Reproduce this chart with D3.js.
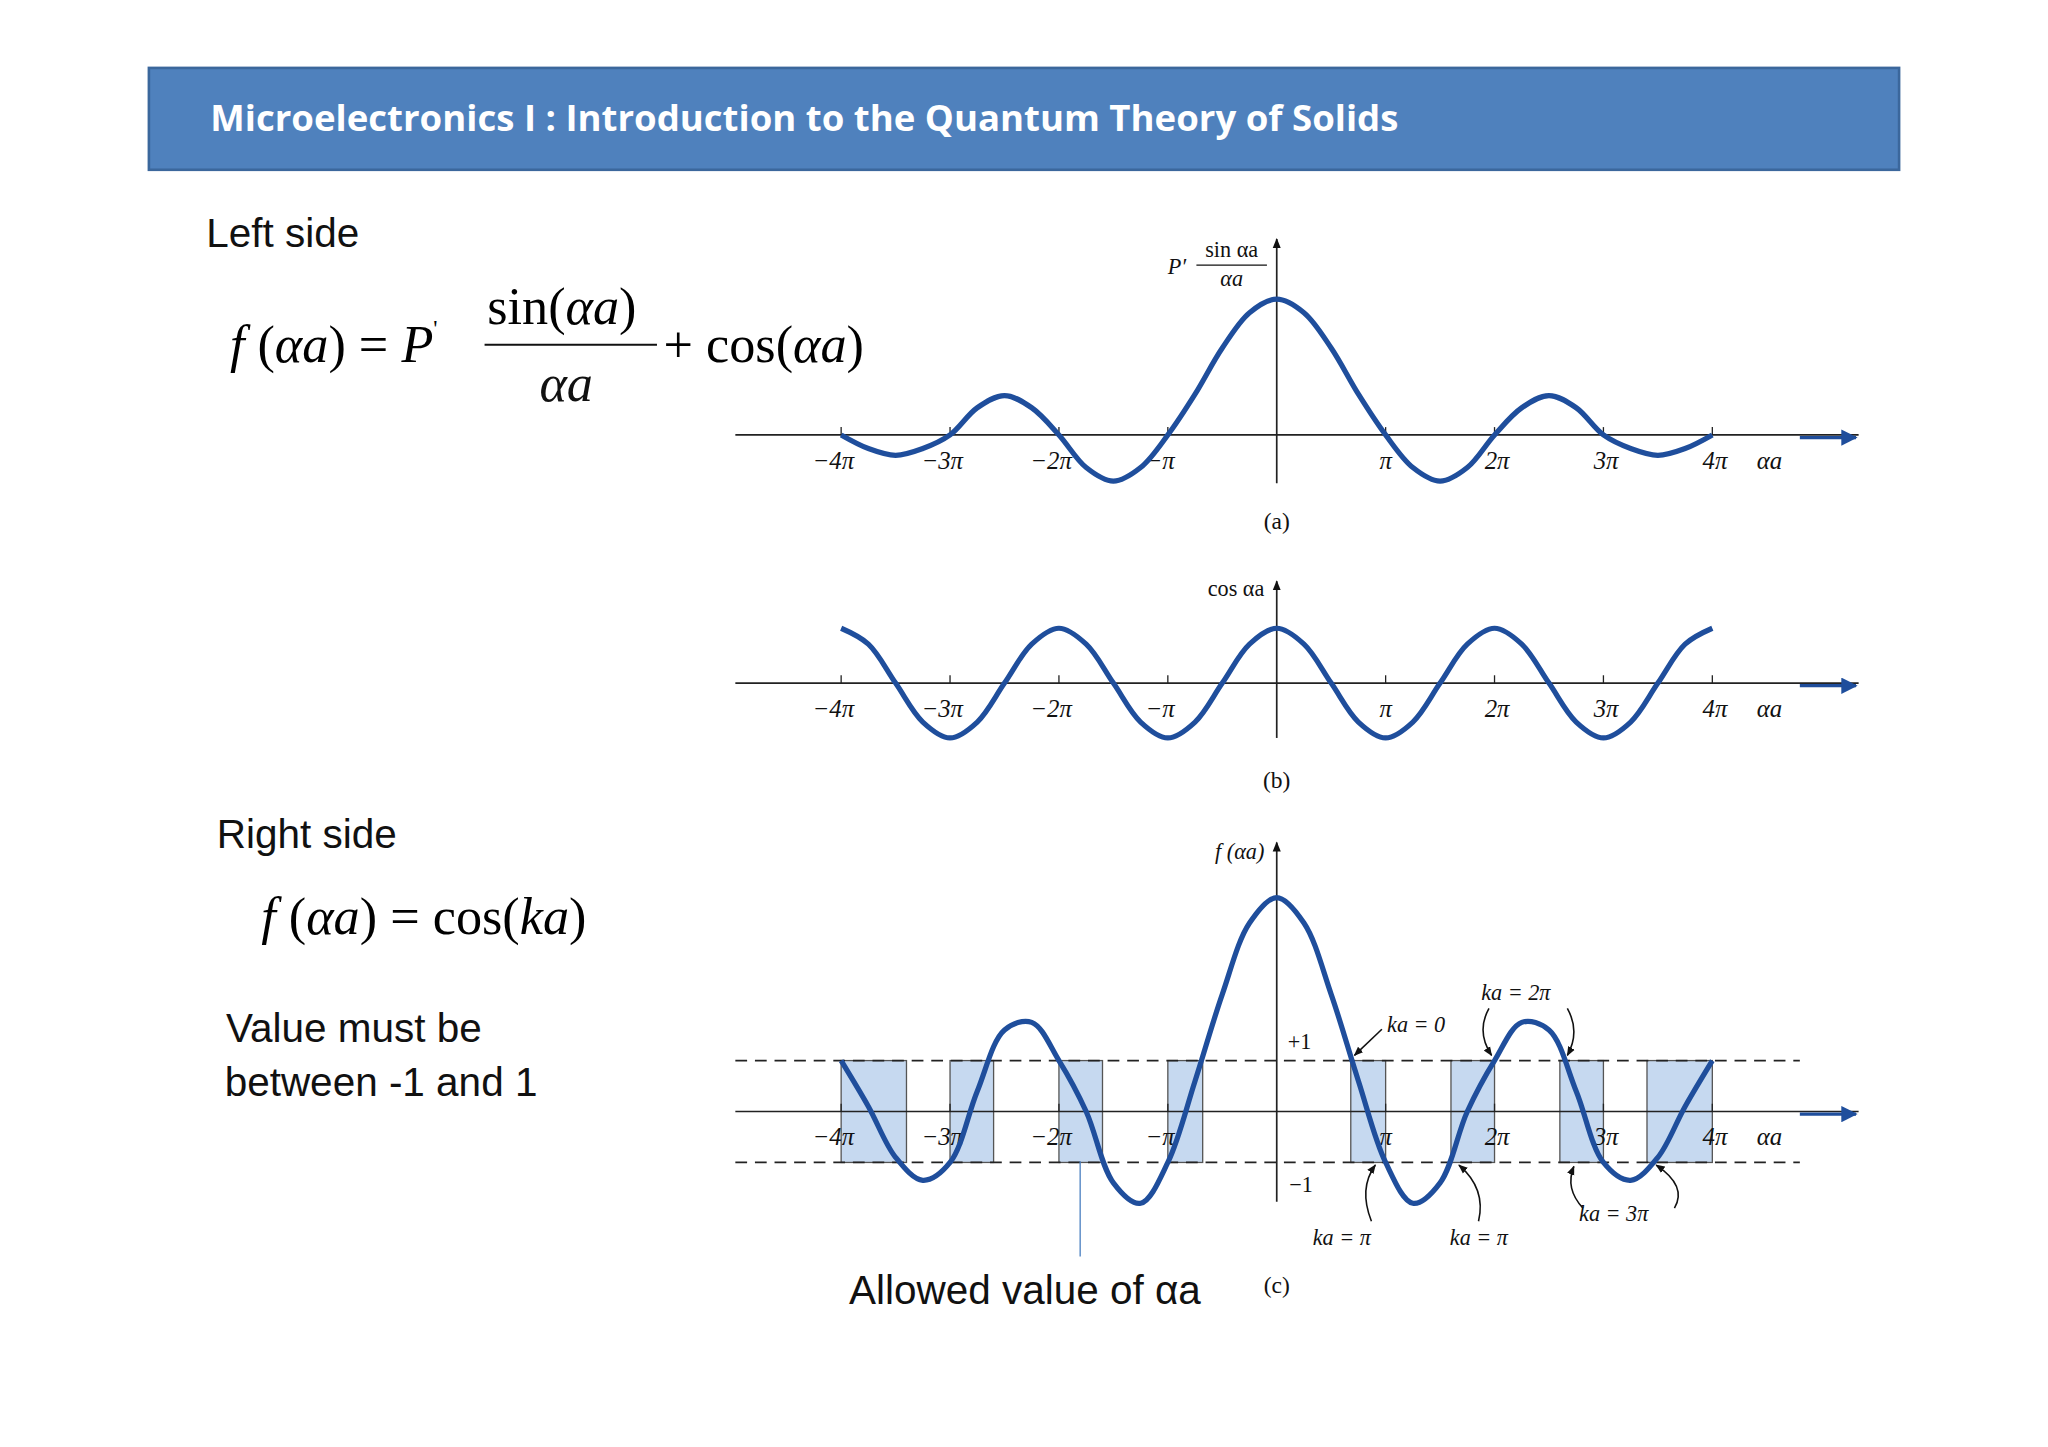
<!DOCTYPE html>
<html><head><meta charset="utf-8">
<script src="https://cdn.jsdelivr.net/npm/d3@7"></script>
<style>body{margin:0;background:#fff}</style></head>
<body><svg id="c" width="2048" height="1447"></svg>
<script>
// x in units of π
const xs = [0,0.25,0.5,0.75,1,1.25,1.5,1.75,2,2.25,2.5,2.75,3,3.25,3.5,3.75,4];
const sincHalf = [1,0.9,0.64,0.3,0,-0.24,-0.34,-0.24,0,0.2,0.29,0.2,0,-0.1,-0.15,-0.1,0];
const cosHalf = [1,0.71,0,-0.71,-1,-0.71,0,0.71,1,0.71,0,-0.71,-1,-0.71,0,0.71,1];
const fHalf = [4.2,3.7,2.3,0.6,-1,-1.8,-1.4,0,1,1.75,1.6,0.4,-1,-1.35,-0.9,0.1,1];
const bands = [[-4,-3.4],[-3,-2.6],[-2,-1.6],[-1,-0.68],[0.68,1],[1.6,2],[2.6,3],[3.4,4]];
const tickVals = [-4,-3,-2,-1,1,2,3,4];
const tickLabels = ["−4π","−3π","−2π","−π","π","2π","3π","4π"];

function full(half){const pts=[];for(let i=xs.length-1;i>0;i--)pts.push([-xs[i],half[i]]);xs.forEach((x,i)=>pts.push([x,half[i]]));return pts;}

const svg=d3.select("#c");
const g=svg.append("g").attr("transform","scale("+(2048/1568)+")");
const blue="#1f4e9c";
const x=d3.scaleLinear().domain([-4,4]).range([644,1311]);
const serif="Liberation Serif, Times New Roman, serif";

// header
g.append("rect").attr("x",114).attr("y",52).attr("width",1340).attr("height",78).attr("fill","#4f81bd").attr("stroke","#3b679c").attr("stroke-width",2);
g.append("text").attr("x",161).attr("y",100).attr("fill","#fff").attr("font-family","Open Sans, sans-serif").attr("font-weight","bold").attr("font-size",28).text("Microelectronics I : Introduction to the Quantum Theory of Solids");

const sans="Liberation Sans, Arial, sans-serif";
function t(xp,yp,s,size,fam,extra){const e=g.append("text").attr("x",xp).attr("y",yp).attr("font-size",size).attr("font-family",fam||sans).attr("fill","#111").text(s);if(extra)extra(e);return e;}
t(158,189,"Left side",31);
t(166,649,"Right side",31);
t(173,798,"Value must be",31);
t(172,839,"between -1 and 1",31);
t(650,998,"Allowed value of αa",31);

// equations
const eq1=g.append("text").attr("font-family",serif).attr("font-size",40).attr("x",176).attr("y",277);
eq1.append("tspan").attr("font-style","italic").text("f");
eq1.append("tspan").text(" (");eq1.append("tspan").attr("font-style","italic").text("αa");eq1.append("tspan").text(") = ");
eq1.append("tspan").attr("font-style","italic").text("P");
eq1.append("tspan").attr("font-size",18).attr("dy",-20).text("'");
const num=g.append("text").attr("font-family",serif).attr("font-size",40).attr("x",373).attr("y",248);
num.append("tspan").text("sin(");num.append("tspan").attr("font-style","italic").text("αa");num.append("tspan").text(")");
g.append("line").attr("x1",371).attr("x2",503).attr("y1",264).attr("y2",264).attr("stroke","#111").attr("stroke-width",1.5);
t(413,307,"αa",40,serif,e=>e.attr("font-style","italic"));
const cs=g.append("text").attr("font-family",serif).attr("font-size",40).attr("x",508).attr("y",277);
cs.append("tspan").text("+ cos(");cs.append("tspan").attr("font-style","italic").text("αa");cs.append("tspan").text(")");
const eq2=g.append("text").attr("font-family",serif).attr("font-size",40).attr("x",200).attr("y",715);
eq2.append("tspan").attr("font-style","italic").text("f");
eq2.append("tspan").text(" (");eq2.append("tspan").attr("font-style","italic").text("αa");eq2.append("tspan").text(") = cos(");
eq2.append("tspan").attr("font-style","italic").text("ka");eq2.append("tspan").text(")");

// arrow marker
const defs=svg.append("defs");
defs.append("marker").attr("id","ab").attr("viewBox","0 0 10 10").attr("refX",9).attr("refY",5).attr("markerWidth",7).attr("markerHeight",5).attr("orient","auto").append("path").attr("d","M0,0L10,5L0,10z").attr("fill",blue);
defs.append("marker").attr("id","ak").attr("viewBox","0 0 10 10").attr("refX",9).attr("refY",5).attr("markerWidth",6).attr("markerHeight",6).attr("orient","auto").append("path").attr("d","M0,1L10,5L0,9z").attr("fill","#111");

function panel(y0,unit,top,bot,data,labY,caption,capY,bgLabels){
  const y=d3.scaleLinear().domain([0,1]).range([y0,y0-unit]);
  g.append("line").attr("x1",563).attr("x2",1423).attr("y1",y0).attr("y2",y0).attr("stroke","#222").attr("stroke-width",1.3);
  g.append("line").attr("x1",1378).attr("x2",1421).attr("y1",y(0)+2).attr("y2",y(0)+2).attr("stroke",blue).attr("stroke-width",2.5).attr("marker-end","url(#ab)");
  t(1345,y0+26,"αa",19,serif,e=>e.attr("font-style","italic"));
  g.append("line").attr("x1",x(0)).attr("x2",x(0)).attr("y1",bot).attr("y2",top).attr("stroke","#222").attr("stroke-width",1.3).attr("marker-end","url(#ak)");
  tickVals.forEach((v,i)=>{
    g.append("line").attr("x1",x(v)).attr("x2",x(v)).attr("y1",y0).attr("y2",y0-6).attr("stroke","#222");
    const lx=x(v)+(v<0?-6:(v==1?0:2));
    const e=t(lx,y0+26,tickLabels[i],19,serif,e=>e.attr("font-style","italic").attr("text-anchor","middle"));
    if(bgLabels){}
  });
  t(x(0),capY,caption,18,serif,e=>e.attr("text-anchor","middle"));
  return y;
}

// (a)
const ya=panel(333,104,183,370,sincHalf,0,"(a)",405);
g.append("path").datum(full(sincHalf)).attr("fill","none").attr("stroke",blue).attr("stroke-width",4)
 .attr("d",d3.line().x(d=>x(d[0])).y(d=>ya(d[1])).curve(d3.curveCatmullRom));
t(894,210,"P′",17,serif,e=>e.attr("font-style","italic"));
t(943,197,"sin αa",17,serif,e=>e.attr("text-anchor","middle"));
g.append("line").attr("x1",916).attr("x2",970).attr("y1",203).attr("y2",203).attr("stroke","#111");
t(943,219,"αa",17,serif,e=>e.attr("text-anchor","middle").attr("font-style","italic"));

// (b)
const yb=panel(523,42,445,565,cosHalf,0,"(b)",603);
g.append("path").datum(full(cosHalf)).attr("fill","none").attr("stroke",blue).attr("stroke-width",4)
 .attr("d",d3.line().x(d=>x(d[0])).y(d=>yb(d[1])).curve(d3.curveCatmullRom));
t(968,456,"cos αa",17,serif,e=>e.attr("text-anchor","end"));

// (c)
const yc=d3.scaleLinear().domain([0,1]).range([851,812]);
g.selectAll(".band").data(bands).join("rect").attr("x",d=>x(d[0])).attr("width",d=>x(d[1])-x(d[0]))
 .attr("y",yc(1)).attr("height",yc(-1)-yc(1)).attr("fill","#c6d9f0").attr("stroke","#555").attr("stroke-width",1);
[1,-1].forEach(v=>g.append("line").attr("x1",563).attr("x2",1378).attr("y1",yc(v)).attr("y2",yc(v)).attr("stroke","#222").attr("stroke-width",1.3).attr("stroke-dasharray","9,6"));
panel(851,39,645,920,fHalf,0,"(c)",990);
g.append("path").datum(full(fHalf)).attr("fill","none").attr("stroke",blue).attr("stroke-width",4)
 .attr("d",d3.line().x(d=>x(d[0])).y(d=>yc(d[1])).curve(d3.curveCatmullRom));
t(968,658,"f (αa)",17,serif,e=>e.attr("text-anchor","end").attr("font-style","italic"));
t(986,803,"+1",17,serif);
t(987,913,"−1",17,serif);
g.append("line").attr("x1",827).attr("x2",827).attr("y1",889).attr("y2",962).attr("stroke","#4a7fc0").attr("stroke-width",1);
// ka annotations
const kl=(s,xp,yp)=>t(xp,yp,s,17,serif,e=>e.attr("font-style","italic"));
kl("ka = 0",1062,790);kl("ka = 2π",1134,766);kl("ka = π",1005,953);kl("ka = π",1110,953);kl("ka = 3π",1209,935);
const arr=(d)=>g.append("path").attr("d",d).attr("fill","none").attr("stroke","#111").attr("stroke-width",1.2).attr("marker-end","url(#ak)");
arr("M1058,788 L1037,808");
arr("M1140,772 Q1130,790 1142,808");
arr("M1200,772 Q1210,790 1200,808");
arr("M1050,935 Q1040,910 1053,892");
arr("M1132,935 Q1138,910 1117,892");
arr("M1212,925 Q1198,910 1205,893");
arr("M1282,925 Q1292,908 1268,892");
</script></body></html>
